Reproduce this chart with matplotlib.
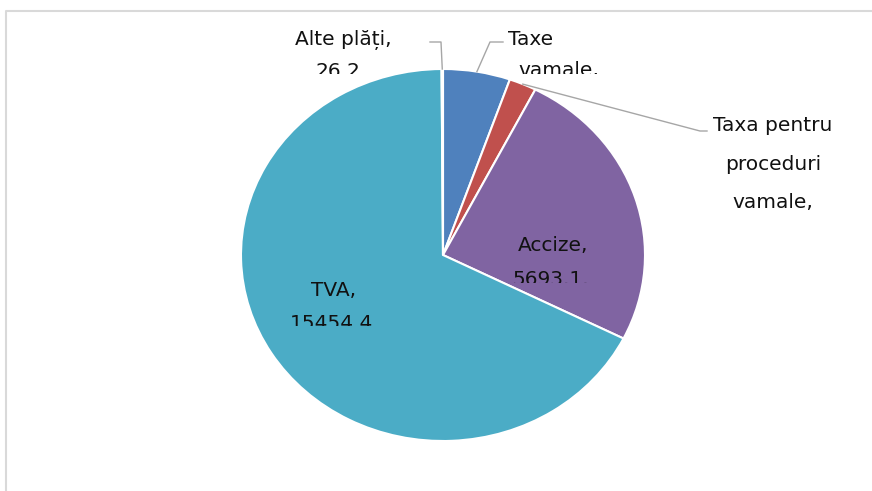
import numpy as np
import matplotlib
matplotlib.use('Agg')
import matplotlib.pyplot as plt
from matplotlib.transforms import Bbox, TransformedBbox

# Data
categories = ['Taxe vamale', 'Taxa pentru proceduri vamale', 'Accize', 'TVA', 'Alte plăți']
values = [1230.0, 500.0, 5693.1, 15454.4, 26.2]
colors = ['#4F81BD', '#C0504D', '#8064A2', '#4BACC6', '#F79646']

# Label lines as shown (Excel clips the label boxes): text, x, baseline y, clip bottom (pixels)
label_lines = [
    ('Alte plăți,', 343, 45, 74),
    ('26.2.', 341, 77, 74),
    ('Taxe', 531, 45, 74),
    ('vamale,', 559, 76, 74),
    ('Taxa pentru', 773, 131, 222),
    ('proceduri', 773, 170, 222),
    ('vamale,', 773, 208, 222),
    ('Accize,', 553, 251, 283),
    ('5693.1.', 551, 285, 283),
    ('TVA,', 334, 296, 326),
    ('15454.4.', 335, 329, 326),
]
# leader line elbows (pixels), last point goes to the wedge edge
leaders = {
    'Alte plăți': [(430, 42), (441, 42)],
    'Taxe vamale': [(503, 42), (490, 42)],
    'Taxa pentru proceduri vamale': [(707, 131), (700, 131)],
}

# Pie geometry in pixels (the original is stretched horizontally)
W, H = 872, 491
CX, CY = 443, 255
RX, RY = 202, 186


def to_data(x, y):
    return (x - CX) / RX, (CY - y) / RY


fig = plt.figure(figsize=(W / 100, H / 100), dpi=100)
ax = fig.add_axes([0, 0, 1, 1])
wedges, _ = ax.pie(values, colors=colors, startangle=90, counterclock=False,
                   wedgeprops=dict(edgecolor='white', linewidth=1.5))
ax.set_aspect('auto')
ax.set_xlim(-CX / RX, (W - CX) / RX)
ax.set_ylim(-(H - CY) / RY, CY / RY)
ax.axis('off')

# Leader lines
for w, name in zip(wedges, categories):
    if name not in leaders:
        continue
    mid = np.deg2rad((w.theta1 + w.theta2) / 2)
    pts = [to_data(x, y) for x, y in leaders[name]] + [(np.cos(mid), np.sin(mid))]
    xs, ys = zip(*pts)
    ax.plot(xs, ys, color='#A6A6A6', lw=1, zorder=3)

# Labels, clipped like the original
for txt, x, y, clip_y in label_lines:
    tx, ty = to_data(x, y)
    t = ax.text(tx, ty, txt, ha='center', va='baseline', fontsize=14.5,
                color='#111111', zorder=4)
    x0, y0 = to_data(0, clip_y)
    x1, y1 = to_data(W, 0)
    t.set_clip_box(TransformedBbox(Bbox.from_extents(x0, y0, x1, y1), ax.transData))
    t.set_clip_on(True)

# Chart area border (top and left edges visible)
bx, by = zip(*[to_data(6, H + 10), to_data(6, 11), to_data(W + 10, 11)])
ax.plot(bx, by, color='#D9D9D9', lw=1.5, clip_on=False)

fig.savefig('out.png', dpi=100)
